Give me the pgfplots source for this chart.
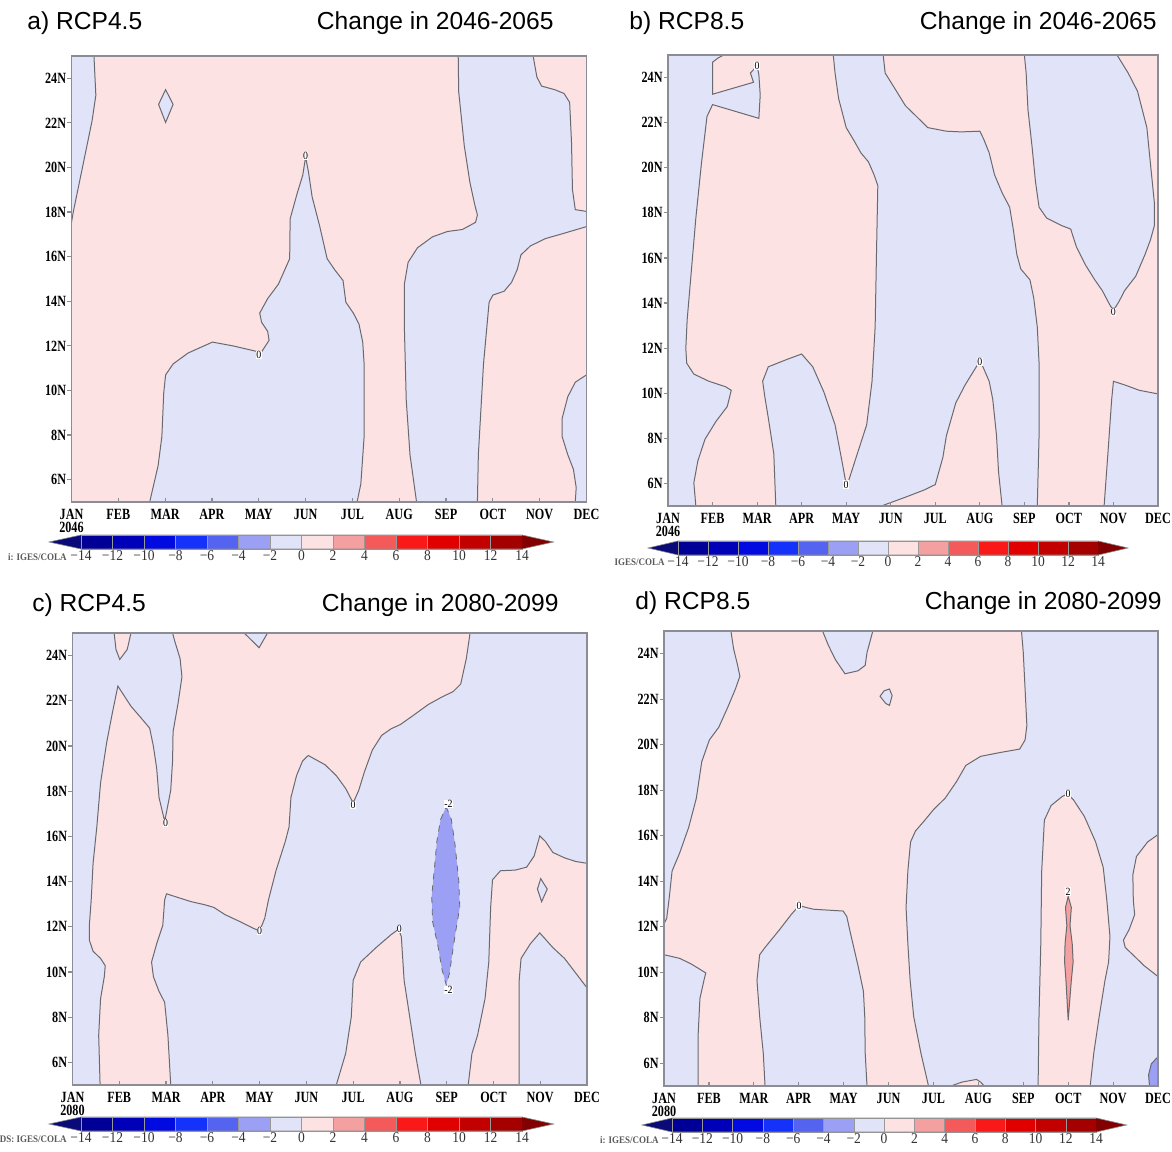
\documentclass[border=0pt]{standalone}
\usepackage{fontspec}
\usepackage{pgfplots}
\pgfplotsset{compat=1.18}
\setmainfont{Liberation Sans}
\newfontfamily\gfont[FakeStretch=0.78]{Liberation Serif}
\newfontfamily\cfont[FakeStretch=0.9]{Liberation Serif}

% shading of the contour bands
\definecolor{bluec}{RGB}{225,227,248}
\definecolor{pinkc}{RGB}{252,226,226}
\definecolor{blueb}{RGB}{155,160,245}
\definecolor{redb}{RGB}{245,160,160}
\definecolor{cline}{RGB}{105,105,112}
\definecolor{frc}{RGB}{140,140,150}
% colour bar
\definecolor{cbL}{RGB}{10,10,120}
\definecolor{cb1}{RGB}{0,0,150}
\definecolor{cb2}{RGB}{0,0,185}
\definecolor{cb3}{RGB}{0,10,225}
\definecolor{cb4}{RGB}{20,50,250}
\definecolor{cb5}{RGB}{85,100,240}
\definecolor{cb6}{RGB}{155,160,245}
\definecolor{cb7}{RGB}{225,227,248}
\definecolor{cb8}{RGB}{252,226,226}
\definecolor{cb9}{RGB}{245,160,160}
\definecolor{cb10}{RGB}{245,90,90}
\definecolor{cb11}{RGB}{250,25,25}
\definecolor{cb12}{RGB}{225,0,0}
\definecolor{cb13}{RGB}{195,0,0}
\definecolor{cb14}{RGB}{165,0,0}
\definecolor{cbR}{RGB}{130,0,0}

\pgfplotsset{
  hov/.style={
    scale only axis, axis on top, clip mode=individual,
    xmin=0, xmax=11, ymin=5, ymax=25,
    xtick={0,...,11},
    xticklabels={JAN,FEB,MAR,APR,MAY,JUN,JUL,AUG,SEP,OCT,NOV,DEC},
    ytick={6,8,...,24},
    yticklabels={6N,8N,10N,12N,14N,16N,18N,20N,22N,24N},
    tick pos=left, tick align=inside,
    major tick length=2pt,
    tick style={frc, line width=0.6pt},
    every y tick/.append style={xshift=-2pt},
    axis line style={frc, line width=0.8pt},
    axis background/.style={fill=bluec},
    ticklabel style={font=\gfont\bfseries\fontsize{7.8}{8}\selectfont, inner sep=0pt},
    xticklabel style={yshift=-3.5pt},
    yticklabel style={xshift=-2.5pt},
  },
  reg/.style={draw=cline, line width=0.5pt, fill=#1},
}
\tikzset{
  lab/.style={font=\cfont\fontsize{5.5}{5.5}\selectfont, fill=white, inner sep=0.2pt},
  yr/.style={font=\gfont\bfseries\fontsize{7.8}{8}\selectfont, inner sep=0pt, anchor=north, yshift=-10pt},
}

% colour bar, in pixel units: left tip, first box, box width, bar centre, label line
\newcommand{\cbar}[5]{%
  \fill[cbL] (#1,#4) -- (#2,#4-7) -- (#2,#4+7) -- cycle;
  \foreach \c [count=\i from 0] in {cb1,cb2,cb3,cb4,cb5,cb6,cb7,cb8,cb9,cb10,cb11,cb12,cb13,cb14}
    \filldraw[fill=\c, draw=black!40, line width=0.25pt] (#2+\i*#3,#4-7) rectangle (#2+\i*#3+#3,#4+7);
  \fill[cbR] (#2+14*#3,#4-7) -- (#2+15*#3,#4) -- (#2+14*#3,#4+7) -- cycle;
  \draw[black!45, line width=0.3pt] (#1,#4) -- (#2,#4-7) -- (#2+14*#3,#4-7) -- (#2+15*#3,#4) -- (#2+14*#3,#4+7) -- (#2,#4+7) -- cycle;
  \foreach \k in {0,...,14} {
    \pgfmathtruncatemacro\cbv{2*\k-14}
    \node[font=\cfont\fontsize{7.5}{8}\selectfont, inner sep=0pt, text=black!80] at (#2+\k*#3,#5)
      {\ifnum\cbv<0 −\number\numexpr-\cbv\relax\else\cbv\fi};
  }
}

\begin{document}
\begin{tikzpicture}
\path[use as bounding box] (0,0) rectangle (586pt,575.5pt);

% ---------- a) RCP4.5, 2046-2065
\begin{axis}[hov, at={(35.75pt,324.5pt)}, anchor=south west, width=257.5pt, height=223pt,
  axis background/.style={fill=pinkc}]
\addplot[reg=bluec] coordinates {(0,25) (0.48,25) (0.52,23.24) (0.44,22.1) (0.28,20.47) (0.12,18.84) (0.04,18.03) (0,17.54)} -- cycle;
\addplot[reg=bluec] coordinates {(2.01,23.49) (2.17,22.83) (2.01,22.02) (1.86,22.83)} -- cycle;
\addplot[reg=bluec] coordinates {(1.67,5) (1.85,6.63) (1.93,7.93) (1.97,9.89) (2.01,10.7) (2.17,11.19) (2.49,11.68) (3.01,12.17) (3.45,12.0) (3.94,11.76) (4.02,11.6) (4.22,12.25) (4.19,12.65) (4.06,13.06) (4.02,13.47) (4.19,14.12) (4.42,14.77) (4.66,15.91) (4.67,17.7) (4.82,18.84) (4.94,19.66) (5.0,20.47) (5.06,19.82) (5.14,18.68) (5.30,17.38) (5.46,15.91) (5.62,15.42) (5.80,14.93) (5.86,13.96) (6.02,13.47) (6.14,12.98) (6.22,12.17) (6.25,11.19) (6.25,7.93) (6.18,5.81) (6.10,5)} -- cycle;
\addplot[reg=bluec] coordinates {(8.26,25) (8.27,23.4) (8.39,20.96) (8.51,19.33) (8.61,18.36) (8.67,17.87) (8.63,17.54) (8.35,17.22) (8.03,17.13) (7.71,16.89) (7.39,16.4) (7.19,15.75) (7.11,14.77) (7.11,12.82) (7.15,9.56) (7.23,7.12) (7.37,5) (8.67,5) (8.69,7.12) (8.80,11.19) (8.92,13.96) (9.0,14.28) (9.24,14.45) (9.40,14.85) (9.52,15.42) (9.60,16.08) (9.80,16.48) (10.12,16.81) (10.52,17.05) (11,17.35) (11,18.03) (10.76,18.11) (10.70,19.01) (10.68,21.12) (10.64,22.92) (10.52,23.32) (10.32,23.49) (10.04,23.65) (9.94,24.06) (9.86,25)} -- cycle;
\addplot[reg=bluec] coordinates {(11,10.70) (10.76,10.37) (10.60,9.72) (10.48,8.75) (10.48,7.93) (10.60,7.12) (10.72,6.47) (10.78,5.65) (10.76,5) (11,5)} -- cycle;
\node[lab] at (axis cs:4.0,11.6) {0};
\node[lab] at (axis cs:5.0,20.5) {0};
\node[yr] at (axis cs:0,5) {2046};
\end{axis}

% ---------- b) RCP8.5, 2046-2065
\begin{axis}[hov, at={(334pt,322.5pt)}, anchor=south west, width=245pt, height=225.5pt]
\addplot[reg=pinkc] coordinates {(0.625,5) (0.58,6.03) (0.67,7.0) (0.83,7.96) (1.08,8.76) (1.33,9.41) (1.42,10.13) (1.29,10.29) (0.92,10.53) (0.58,10.85) (0.42,11.33) (0.40,11.98) (0.43,13.26) (0.5,14.87) (0.625,17.77) (0.75,20.18) (0.875,22.27) (1.0,22.8) (2.04,22.19) (2.07,23.23) (2.04,24.12) (2.0,24.52) (1.85,24.2) (1.92,23.79) (1.0,23.26) (1.0,24.68) (1.125,24.87) (1.25,25) (3.71,25) (3.75,24.2) (3.83,23.07) (4.0,21.78) (4.17,21.22) (4.33,20.66) (4.5,20.26) (4.625,19.69) (4.71,19.21) (4.68,16.16) (4.65,12.94) (4.58,10.53) (4.46,8.6) (4.25,7.32) (4.04,6.03) (4.0,5.95) (3.92,6.83) (3.75,8.6) (3.5,10.05) (3.25,11.17) (3.0,11.74) (2.67,11.5) (2.25,11.17) (2.125,10.53) (2.17,9.89) (2.25,8.92) (2.375,7.32) (2.42,5)} -- cycle;
\addplot[reg=pinkc] coordinates {(4.79,5) (5.33,5.39) (5.75,5.71) (6.0,5.95) (6.17,7.15) (6.25,8.12) (6.46,9.57) (6.67,10.37) (6.92,11.17) (7.0,11.41) (7.07,11.17) (7.21,10.53) (7.29,9.73) (7.375,8.12) (7.42,6.51) (7.5,5)} -- cycle;
\addplot[reg=pinkc] coordinates {(4.83,25) (4.875,24.2) (5.08,23.55) (5.33,22.75) (5.58,22.27) (5.83,21.78) (6.25,21.62) (6.58,21.59) (7.0,21.62) (7.08,21.3) (7.21,20.66) (7.33,19.69) (7.5,18.89) (7.67,18.25) (7.75,17.28) (7.83,16.16) (7.92,15.51) (8.125,15.03) (8.21,14.23) (8.29,12.94) (8.33,11.33) (8.33,8.12) (8.29,5) (9.79,5) (9.875,7.32) (9.96,9.73) (10.0,10.53) (10.25,10.37) (10.58,10.13) (11,9.97) (11,25) (10.08,25) (10.33,24.2) (10.54,23.39) (10.75,21.78) (10.83,20.18) (10.92,18.41) (10.92,17.44) (10.83,16.8) (10.71,16.16) (10.5,15.19) (10.25,14.55) (10.125,14.07) (10.0,13.67) (9.92,13.91) (9.75,14.55) (9.58,15.03) (9.375,15.68) (9.17,16.48) (9.04,17.28) (8.83,17.44) (8.5,17.77) (8.33,18.25) (8.25,19.37) (8.17,20.98) (8.08,22.59) (8.04,24.2) (8.0,25)} -- cycle;
\node[lab] at (axis cs:2.0,24.5) {0};
\node[lab] at (axis cs:4.0,5.95) {0};
\node[lab] at (axis cs:7.0,11.4) {0};
\node[lab] at (axis cs:10.0,13.6) {0};
\node[yr] at (axis cs:0,5) {2046};
\end{axis}

% ---------- c) RCP4.5, 2080-2099
\begin{axis}[hov, at={(36.25pt,33pt)}, anchor=south west, width=257.25pt, height=226pt]
\addplot[reg=pinkc] coordinates {(0.59,5) (0.56,7.2) (0.60,8.82) (0.68,9.79) (0.70,10.28) (0.60,10.6) (0.44,10.92) (0.36,11.41) (0.36,12.06) (0.40,13.19) (0.44,14.81) (0.52,16.42) (0.60,18.37) (0.73,20.15) (0.85,21.44) (0.97,22.65) (1.25,21.76) (1.45,21.28) (1.65,20.79) (1.73,19.98) (1.80,19.01) (1.85,17.72) (1.97,16.67) (2.01,17.07) (2.10,18.04) (2.14,19.34) (2.15,20.63) (2.26,21.93) (2.34,23.06) (2.30,23.87) (2.18,24.68) (2.14,25) (3.67,25) (3.99,24.35) (4.17,25) (8.50,25) (8.42,23.87) (8.30,22.74) (8.14,22.41) (7.90,22.17) (7.61,21.84) (7.29,21.36) (7.01,20.95) (6.81,20.76) (6.61,20.47) (6.41,19.82) (6.24,18.85) (6.12,18.04) (6.00,17.48) (5.84,18.12) (5.64,18.69) (5.40,19.17) (5.04,19.58) (4.92,19.34) (4.79,18.69) (4.67,17.72) (4.63,16.42) (4.55,15.78) (4.35,14.48) (4.19,13.19) (4.11,12.38) (4.00,11.81) (3.83,11.97) (3.59,12.22) (3.26,12.54) (3.02,12.86) (2.82,12.98) (2.54,13.11) (2.22,13.32) (2.01,13.46) (1.97,13.19) (1.93,12.06) (1.80,11.25) (1.69,10.44) (1.73,9.79) (1.85,9.14) (1.97,8.66) (2.04,7.2) (2.10,5)} -- cycle;
\addplot[reg=pinkc] coordinates {(0.89,25) (0.93,24.27) (1.01,23.83) (1.17,24.27) (1.25,25)} -- cycle;
\addplot[reg=pinkc] coordinates {(5.64,5) (5.84,6.39) (5.96,8.01) (6.0,9.63) (6.16,10.44) (6.49,11.08) (6.81,11.65) (6.97,11.89) (7.03,11.57) (7.09,9.63) (7.21,8.01) (7.33,6.39) (7.45,5)} -- cycle;
\addplot[reg=pinkc] coordinates {(8.46,5) (8.54,6.39) (8.66,7.2) (8.82,8.82) (8.90,10.44) (8.94,12.86) (8.98,14.08) (9.15,14.48) (9.47,14.51) (9.71,14.64) (9.87,15.13) (9.99,16.02) (10.11,15.78) (10.27,15.29) (10.52,15.05) (10.76,14.89) (11,14.81) (11,9.30) (10.76,9.95) (10.52,10.6) (10.27,11.08) (9.99,11.73) (9.79,11.25) (9.59,10.6) (9.55,9.63) (9.55,5)} -- cycle;
\addplot[reg=bluec] coordinates {(10.01,14.13) (10.15,13.67) (10.03,13.11) (9.94,13.67)} -- cycle;
\addplot[reg=blueb, dashed, line width=0.4pt] coordinates {(7.99,17.31) (8.10,16.75) (8.18,15.61) (8.26,14.0) (8.28,12.86) (8.20,11.89) (8.14,11.08) (8.06,9.95) (7.99,9.43) (7.90,10.11) (7.82,11.08) (7.70,12.22) (7.68,13.35) (7.74,14.64) (7.79,15.78) (7.87,16.75)} -- cycle;
\node[lab] at (axis cs:1.99,16.6) {0};
\node[lab] at (axis cs:4.0,11.8) {0};
\node[lab] at (axis cs:6.0,17.4) {0};
\node[lab] at (axis cs:6.99,11.9) {0};
\node[lab] at (axis cs:8.04,17.45) {-2};
\node[lab] at (axis cs:8.04,9.2) {-2};
\node[yr] at (axis cs:0,5) {2080};
\end{axis}

% ---------- d) RCP8.5, 2080-2099
\begin{axis}[hov, at={(332pt,32.5pt)}, anchor=south west, width=247pt, height=227.5pt]
\addplot[reg=pinkc] coordinates {(0.76,5) (0.76,7.25) (0.80,8.85) (0.89,9.65) (0.93,9.97) (0.80,10.13) (0.60,10.37) (0.35,10.61) (0,10.77) (0,12.13) (0.06,12.37) (0.12,13.33) (0.18,14.45) (0.35,15.25) (0.55,16.37) (0.72,17.65) (0.84,19.25) (1.01,20.21) (1.22,20.77) (1.42,21.65) (1.59,22.45) (1.69,23.01) (1.63,23.57) (1.55,24.21) (1.49,25) (3.53,25) (3.66,24.37) (3.82,23.73) (4.03,23.12) (4.32,23.25) (4.48,23.49) (4.52,24.05) (4.65,25) (7.96,25) (8.00,24.05) (8.04,22.45) (8.08,20.85) (8.04,20.21) (7.92,19.81) (7.46,19.65) (7.05,19.49) (6.72,19.09) (6.51,18.37) (6.26,17.65) (6.01,17.17) (5.81,16.69) (5.60,16.21) (5.49,15.73) (5.43,14.45) (5.39,12.85) (5.43,11.25) (5.48,9.65) (5.56,8.05) (5.72,6.45) (5.89,5) (4.52,5) (4.48,6.45) (4.47,8.05) (4.44,9.17) (4.32,10.29) (4.15,11.73) (4.07,12.45) (3.99,12.69) (3.33,12.77) (3.16,12.85) (3.01,12.93) (2.83,12.53) (2.58,11.89) (2.25,11.09) (2.13,10.77) (2.07,9.65) (2.13,8.05) (2.21,6.45) (2.25,5)} -- cycle;
\addplot[reg=bluec] coordinates {(4.90,22.37) (5.02,22.45) (5.08,22.16) (5.02,21.73) (4.94,21.81) (4.81,22.13)} -- cycle;
\addplot[reg=pinkc] coordinates {(6.39,5) (6.63,5.17) (6.96,5.29) (7.05,5.17) (7.13,5)} -- cycle;
\addplot[reg=pinkc] coordinates {(8.33,5) (8.35,8.05) (8.39,11.25) (8.41,14.45) (8.47,16.69) (8.62,17.33) (8.87,17.73) (8.99,17.84) (9.12,17.57) (9.36,16.85) (9.61,15.73) (9.78,14.61) (9.86,13.17) (9.93,11.57) (9.90,10.45) (9.82,9.65) (9.69,8.05) (9.57,6.45) (9.49,5)} -- cycle;
\addplot[reg=redb] coordinates {(9.0,13.33) (9.07,12.85) (9.04,12.05) (9.09,11.25) (9.11,10.45) (9.07,9.65) (9.0,7.89) (8.95,9.65) (8.92,10.45) (8.93,11.25) (8.97,12.05) (8.94,12.85)} -- cycle;
\addplot[reg=pinkc] coordinates {(11,16.05) (10.77,15.73) (10.52,15.09) (10.44,14.29) (10.45,13.17) (10.48,12.53) (10.36,11.89) (10.23,11.41) (10.27,11.09) (10.44,10.77) (10.69,10.29) (11,9.81)} -- cycle;
\addplot[reg=blueb] coordinates {(11,6.29) (10.85,5.97) (10.79,5.49) (10.81,5) (11,5)} -- cycle;
\node[lab] at (axis cs:3.01,12.93) {0};
\node[lab] at (axis cs:9.0,17.84) {0};
\node[lab] at (axis cs:9.0,13.55) {2};
\node[yr] at (axis cs:0,5) {2080};
\end{axis}

% ---------- titles, colour bars and credits (pixel coordinates)
\begin{scope}[x=0.5pt, y=-0.5pt, shift={(0,575.5pt)}]
\tikzset{tt/.style={font=\fontsize{12.3}{14}\selectfont, inner sep=0pt}}
\node[tt, anchor=west] at (27,23) {a) RCP4.5};
\node[tt, anchor=east] at (554,23) {Change in 2046-2065};
\node[tt, anchor=west] at (629,23) {b) RCP8.5};
\node[tt, anchor=east] at (1157,23) {Change in 2046-2065};
\node[tt, anchor=west] at (32,605) {c) RCP4.5};
\node[tt, anchor=east] at (559,605) {Change in 2080-2099};
\node[tt, anchor=west] at (635,603) {d) RCP8.5};
\node[tt, anchor=east] at (1162,603) {Change in 2080-2099};

\cbar{49}{81}{31.5}{542}{556}
\cbar{648}{678}{30}{548}{562}
\cbar{49}{81}{31.5}{1124}{1138}
\cbar{642}{672}{30.3}{1125}{1139}

\tikzset{cr/.style={font=\cfont\bfseries\fontsize{5}{6}\selectfont, inner sep=0pt, anchor=east, text=black!65}}
\node[cr] at (67,557) {i: IGES/COLA};
\node[cr] at (665,562) {IGES/COLA};
\node[cr] at (67,1139) {DS: IGES/COLA};
\node[cr] at (659,1140) {i: IGES/COLA};
\end{scope}
\end{tikzpicture}
\end{document}
